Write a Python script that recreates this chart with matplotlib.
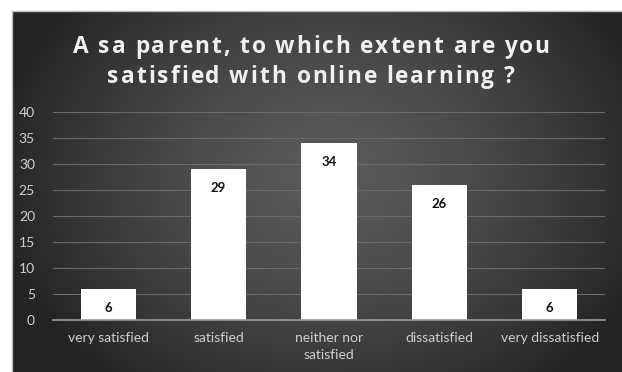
import numpy as np
import matplotlib
matplotlib.use("Agg")
import matplotlib.pyplot as plt
from matplotlib.textpath import TextPath
from matplotlib.font_manager import FontProperties

categories = ["very satisfied", "satisfied", "neither nor\nsatisfied", "dissatisfied", "very dissatisfied"]
values = [6, 29, 34, 26, 6]
yticks = [0, 5, 10, 15, 20, 25, 30, 35, 40]
title_lines = ["A sa parent, to which extent are you", "satisfied with online learning ?"]

W, H = 622, 372
fig = plt.figure(figsize=(W / 100, H / 100), dpi=100)
fig.patch.set_facecolor("white")

# dark panel with radial gradient
px0, py0 = 12, 11
bg = fig.add_axes([px0 / W, 0, (W - px0) / W, (H - py0) / H])
ny, nx = 200, 300
yy, xx = np.mgrid[0:ny, 0:nx]
cx, cy = nx * 0.52, ny * 0.45
r = np.sqrt(((xx - cx) / (nx * 0.55)) ** 2 + ((yy - cy) / (ny * 0.75)) ** 2)
r = np.clip(r, 0, 1)
img = 0.35 - 0.21 * r ** 1.5
bg.imshow(np.dstack([img, img, img]), aspect="auto", extent=[0, 1, 0, 1], interpolation="bilinear")
bg.set_axis_off()
fig.add_artist(plt.Line2D([px0 / W, 1], [1 - py0 / H, 1 - py0 / H], color="#bbbbbb", lw=1))
fig.add_artist(plt.Line2D([px0 / W, px0 / W], [0, 1 - py0 / H], color="#bbbbbb", lw=1))

# plot axes: x 53..605 px, y 112(40)..320(0)
x0, x1 = 53, 605
ytop, ybot = 112, 320
ax = fig.add_axes([x0 / W, 1 - ybot / H, (x1 - x0) / W, (ybot - ytop) / H])
ax.set_facecolor("none")
xpos = np.arange(len(categories))
ax.bar(xpos, values, width=0.5, color="white", zorder=3)
ax.set_xlim(-0.5, len(categories) - 0.5)
ax.set_ylim(0, 40)
ax.set_yticks(yticks)
ax.set_xticks(xpos)
ax.set_xticklabels(categories, fontsize=10, color="#cfcfcf", family="Lato", linespacing=1.45)
ax.set_yticklabels([str(t) for t in yticks], fontsize=10, color="#cfcfcf", family="Lato")
ax.tick_params(length=0)
ax.tick_params(axis="y", pad=13)
ax.tick_params(axis="x", pad=9)
ax.yaxis.grid(True, color="#6a6a6a", lw=0.8, zorder=0)
for s in ["top", "right", "left"]:
    ax.spines[s].set_visible(False)
ax.spines["bottom"].set_color("#9a9a9a")
ax.spines["bottom"].set_linewidth(1.2)
ax.spines["bottom"].set_zorder(4)

for x, v in zip(xpos, values):
    ax.annotate(str(v), (x, v), xytext=(0, -19), textcoords="offset pixels",
                ha="center", va="center", fontsize=9.5, fontweight="bold", color="#111111",
                family="Lato", zorder=5)

# title with letter spacing
fsize = 16.3
fp = FontProperties(family="Open Sans", weight="bold", size=fsize)
spacing = 2.1  # extra px per character
px_per_pt = 100 / 72.0
line_y = [44, 74]
center_x = 311
ref_w = TextPath((0, 0), "xx", prop=fp).get_extents().width
for line, yc in zip(title_lines, line_y):
    widths = []
    for ch in line:
        if ch == " ":
            w = TextPath((0, 0), "a a", prop=fp).get_extents().width - TextPath((0, 0), "aa", prop=fp).get_extents().width
        else:
            w = TextPath((0, 0), "x" + ch + "x", prop=fp).get_extents().width - ref_w
        widths.append(w * px_per_pt + spacing)
    total = sum(widths) - spacing
    xcur = center_x - total / 2
    for ch, w in zip(line, widths):
        if ch != " ":
            fig.text(xcur / W, 1 - yc / H, ch, ha="left", va="center_baseline", fontproperties=fp,
                     color="#f0f0f0")
        xcur += w

fig.savefig("out.png", dpi=100, facecolor=fig.get_facecolor())
